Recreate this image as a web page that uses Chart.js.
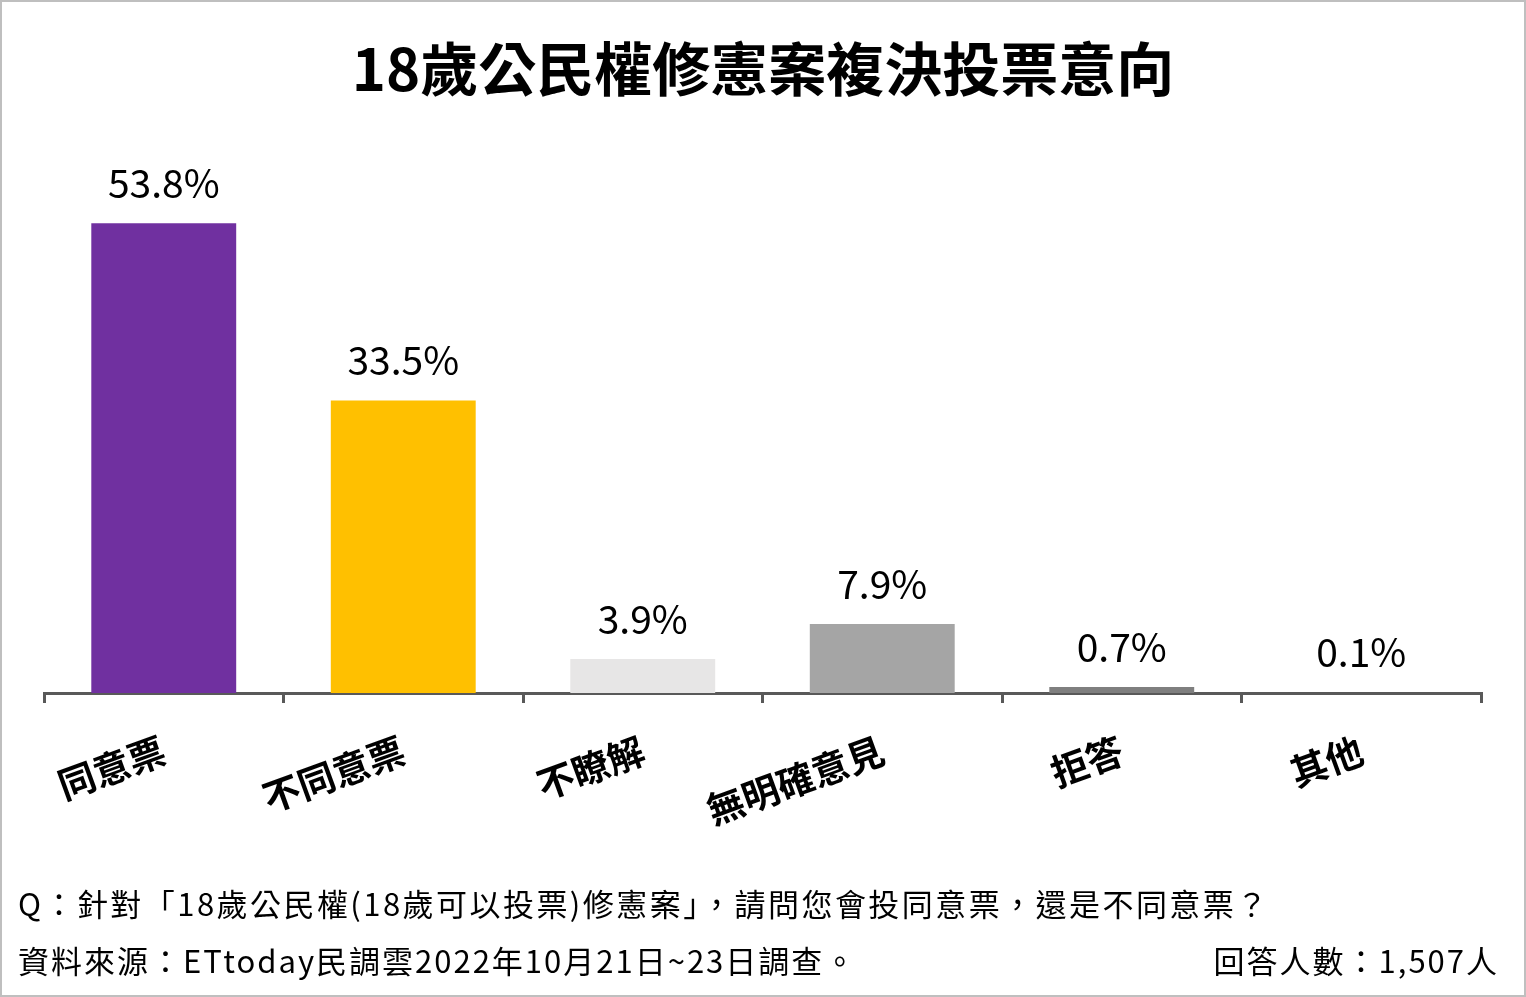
<!DOCTYPE html>
<html>
<head>
<meta charset="utf-8">
<script src="https://cdn.jsdelivr.net/npm/chart.js@4/dist/chart.umd.min.js"></script>
<style>
  html, body { margin: 0; padding: 0; background: #fff; }
  #wrap { position: relative; width: 1526px; height: 997px; overflow: hidden; background: #fff; }
  #frame { position: absolute; left: 0; top: 0; width: 1526px; height: 997px; box-sizing: border-box; border: 2px solid #BFBFBF; pointer-events: none; z-index: 5; }
  #cv { position: absolute; left: 0; top: 0; }
  .t { position: absolute; font-family: "Noto Sans CJK TC", "Noto Sans", sans-serif; color: #000; white-space: nowrap; }
  #title { left: 0; width: 1526px; text-align: center; top: 24px; font-size: 58px; font-weight: bold; line-height: 84px; }
  #q { left: 18px; top: 881px; font-size: 31px; line-height: 44px; letter-spacing: 2.45px; }
  #src { left: 18px; top: 938px; font-size: 31px; line-height: 44px; letter-spacing: 2px; }
  #n { right: 27px; top: 938px; font-size: 31px; line-height: 44px; letter-spacing: 2px; }
</style>
</head>
<body>
<div id="wrap">
  <canvas id="cv" width="1526" height="997"></canvas>
  <div class="t" id="title">18歲公民權修憲案複決投票意向</div>
  <div class="t" id="q">Q：針對「18歲公民權(18歲可以投票)修憲案」，請問您會投同意票，還是不同意票？</div>
  <div class="t" id="src">資料來源：ETtoday民調雲2022年10月21日~23日調查。</div>
  <div class="t" id="n">回答人數：1,507人</div>
  <div id="frame"></div>
</div>
<script>
const categories = ["同意票", "不同意票", "不瞭解", "無明確意見", "拒答", "其他"];
const values = [53.8, 33.5, 3.9, 7.9, 0.7, 0.1];
const barColors = ["#7030A0", "#FFC000", "#E7E6E6", "#A5A5A5", "#7F7F7F", "#595959"];

const FONT = '"Noto Sans CJK TC", "Noto Sans", sans-serif';

const valueLabels = {
  id: 'valueLabels',
  afterDatasetsDraw(chart) {
    const ctx = chart.ctx;
    const meta = chart.getDatasetMeta(0);
    ctx.save();
    ctx.font = '39px ' + FONT;
    ctx.fillStyle = '#000';
    ctx.textAlign = 'center';
    ctx.textBaseline = 'middle';
    meta.data.forEach((bar, i) => {
      ctx.fillText(values[i].toFixed(1) + '%', bar.x, bar.y - 40);
    });
    ctx.restore();
  }
};

new Chart(document.getElementById('cv'), {
  type: 'bar',
  data: {
    labels: categories,
    datasets: [{
      data: values,
      backgroundColor: barColors,
      borderWidth: 0,
      barPercentage: 0.605,
      categoryPercentage: 1.0
    }]
  },
  options: {
    responsive: false,
    animation: false,
    devicePixelRatio: 1,
    layout: { padding: { top: 169, left: 44, right: 45, bottom: 0 } },
    plugins: {
      legend: { display: false },
      tooltip: { enabled: false },
      title: { display: false }
    },
    scales: {
      x: {
        z: 1,
        offset: true,
        afterFit(s) { s.height = 997 - 693; },
        border: { display: true, color: '#595959', width: 3 },
        grid: {
          display: true,
          offset: true,
          drawOnChartArea: false,
          drawTicks: true,
          tickLength: 10,
          color: '#595959',
          lineWidth: 3
        },
        ticks: {
          autoSkip: false,
          maxRotation: 20,
          minRotation: 20,
          padding: 25,
          color: '#000',
          font: { family: FONT, size: 37, weight: 'bold' }
        }
      },
      y: {
        display: false,
        min: 0,
        max: 60
      }
    }
  },
  plugins: [valueLabels]
});
</script>
</body>
</html>
